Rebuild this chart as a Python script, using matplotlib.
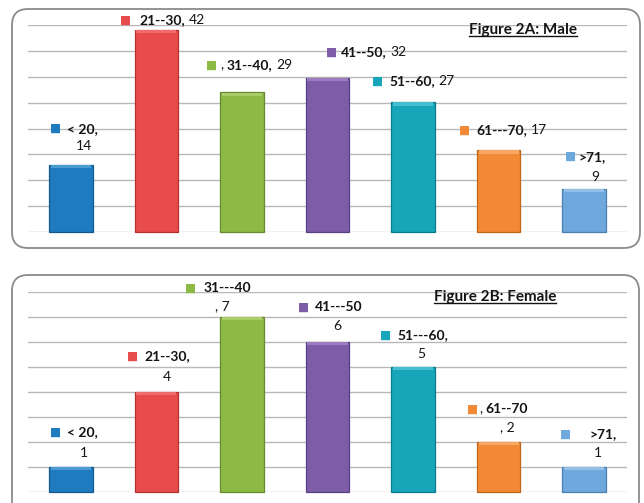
import numpy as np
import matplotlib
matplotlib.use("Agg")
import matplotlib.pyplot as plt
from matplotlib.patches import FancyBboxPatch
from matplotlib.transforms import IdentityTransform
from matplotlib.lines import Line2D

plt.rcParams['font.family'] = ['Lato', 'DejaVu Sans']

# age groups and counts
male_groups = ['< 20', '21--30', '31--40', '41--50', '51--60', '61---70', '>71']
male_counts = [14, 42, 29, 32, 27, 17, 9]
female_groups = ['< 20', '21--30', '31---40', '41---50', '51---60', '61--70', '>71']
female_counts = [1, 4, 7, 6, 5, 2, 1]

bar_colors = ['#1e7bc0', '#e84b4b', '#8dba45', '#7d5ca8', '#17a6b9', '#f28a35', '#6fa8dc']
edge_colors = ['#14598d', '#b23232', '#678a2e', '#573f80', '#0d7a88', '#bf6519', '#4a7fb0']
top_colors = ['#4a9bd4', '#f06c6c', '#a7cc68', '#9a7cbf', '#45bfd0', '#f7a663', '#93bfe8']

W, H = 644, 503
fig = plt.figure(figsize=(W / 100, H / 100), dpi=100)

# rounded frames around each panel (pixel coords)
for x0, y0, w, h in [(12, H - 248, 628, 239), (12, -30, 627, H - 275 + 30)]:
    fig.patches.append(FancyBboxPatch((x0, y0), w, h,
                                      boxstyle='round,pad=0,rounding_size=16',
                                      transform=IdentityTransform(), facecolor='none',
                                      edgecolor='#8a8a8a', linewidth=1.3))

px = 0.72  # points per pixel
FS = 10


def draw_label(ax, i, v, color, line1, dx, dy, tx=17, line2=None, l2x=36, l2dy=19):
    anchor = (i + dx, v)
    ax.annotate('■', xy=anchor, xytext=(0, dy * px), textcoords='offset points',
                ha='left', va='center', color=color, fontsize=8.5,
                family='DejaVu Sans', annotation_clip=False)
    prev = None
    for txt, bold in line1:
        kw = dict(ha='left', va='center', fontsize=FS, color='#141414',
                  fontweight='bold' if bold else 'normal', annotation_clip=False)
        if prev is None:
            prev = ax.annotate(txt, xy=anchor, xytext=(tx * px, dy * px),
                               textcoords='offset points', **kw)
        else:
            prev = ax.annotate(txt, xy=(1, 0.5), xycoords=prev, xytext=(2.5, 0),
                               textcoords='offset points', **kw)
    if line2 is not None:
        ax.annotate(line2, xy=anchor, xytext=(l2x * px, (dy - l2dy) * px),
                    textcoords='offset points', ha='center', va='center',
                    fontsize=FS, color='#141414', annotation_clip=False)


def draw_panel(rect, counts, ymax, grid, title, title_pos):
    ax = fig.add_axes(rect)
    x = np.arange(len(counts))
    ax.set_xlim(-0.5, len(counts) - 0.5)
    ax.set_ylim(0, ymax)
    for g in grid:
        ax.axhline(g, color='#b8b8b8', linewidth=1.0, zorder=0)
    ax.bar(x, counts, width=0.51, color=bar_colors, edgecolor=edge_colors,
           linewidth=0.9, zorder=2, clip_on=False)
    # light bevel along the top of each bar
    hl = ymax * 0.016
    ax.bar(x, [hl] * len(counts), bottom=np.array(counts) - hl * 1.05, width=0.47,
           color=top_colors, linewidth=0, zorder=3, clip_on=False)
    for s in ax.spines.values():
        s.set_visible(False)
    ax.set_xticks([])
    ax.set_yticks([])
    t = ax.text(title_pos[0], title_pos[1], title, transform=ax.transAxes,
                ha='center', va='center', fontsize=11, fontweight='bold',
                color='#141414')
    return ax, t


# Figure 2A: Male
ax1, t1 = draw_panel([28 / W, (H - 232) / H, 599 / W, 207 / H], male_counts, 43,
                     np.linspace(0, 43, 9), 'Figure 2A: Male', (0.826, 0.975))
c, g = male_counts, male_groups
draw_label(ax1, 0, c[0], bar_colors[0], [(g[0] + ',', True)], -0.245, 36,
           line2=str(c[0]), l2x=34, l2dy=17)
draw_label(ax1, 1, c[1], bar_colors[1], [(g[1] + ',', True), (str(c[1]), False)], -0.42, 10, tx=19)
draw_label(ax1, 2, c[2], bar_colors[2], [(',', False), (g[2] + ',', True), (str(c[2]), False)],
           -0.42, 27, tx=14)
draw_label(ax1, 3, c[3], bar_colors[3], [(g[3] + ',', True), (str(c[3]), False)], -0.02, 26, tx=15)
draw_label(ax1, 4, c[4], bar_colors[4], [(g[4] + ',', True), (str(c[4]), False)], -0.48, 21)
draw_label(ax1, 5, c[5], bar_colors[5], [(g[5] + ',', True), (str(c[5]), False)], -0.46, 20)
draw_label(ax1, 6, c[6], bar_colors[6], [(g[6] + ',', True)], -0.23, 32, tx=14,
           line2=str(c[6]), l2x=31, l2dy=20)

# Figure 2B: Female
ax2, t2 = draw_panel([28 / W, (H - 492) / H, 599 / W, 200 / H], female_counts, 8,
                     np.arange(0, 9), 'Figure 2B: Female', (0.78, 0.975))
c, g = female_counts, female_groups
draw_label(ax2, 0, c[0], bar_colors[0], [(g[0] + ',', True)], -0.245, 35,
           line2=str(c[0]), l2x=34, l2dy=21)
draw_label(ax2, 1, c[1], bar_colors[1], [(g[1] + ',', True)], -0.34, 36,
           line2=str(c[1]), l2x=40, l2dy=21)
draw_label(ax2, 2, c[2], bar_colors[2], [(g[2], True)], -0.67, 29, tx=19,
           line2=', ' + str(c[2]), l2x=38, l2dy=18)
draw_label(ax2, 3, c[3], bar_colors[3], [(g[3], True)], -0.35, 35,
           line2=str(c[3]), l2x=40, l2dy=19)
draw_label(ax2, 4, c[4], bar_colors[4], [(g[4] + ',', True)], -0.385, 32,
           line2=str(c[4]), l2x=41, l2dy=19)
draw_label(ax2, 5, c[5], bar_colors[5], [(',', False), (g[5], True)], -0.37, 33, tx=12,
           line2=', ' + str(c[5]), l2x=40, l2dy=18)
draw_label(ax2, 6, c[6], bar_colors[6], [(g[6] + ',', True)], -0.28, 33, tx=29,
           line2=str(c[6]), l2x=38, l2dy=19)

# underline the panel titles
fig.canvas.draw()
for t in (t1, t2):
    bb = t.get_window_extent()
    fig.lines.append(Line2D([bb.x0, bb.x1], [bb.y0 + 1, bb.y0 + 1],
                            transform=IdentityTransform(), color='#141414', linewidth=1.0))

fig.savefig('out.png', dpi=100, facecolor='white')
